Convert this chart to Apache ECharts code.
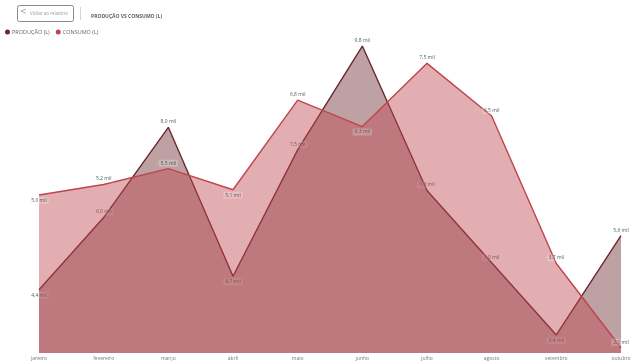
<!DOCTYPE html>
<html>
<head>
<meta charset="utf-8">
<script src="https://cdn.jsdelivr.net/npm/echarts@6/dist/echarts.min.js"></script>
<style>
  html, body { margin: 0; padding: 0; background: #ffffff; }
  #chart { width: 639px; height: 362px; }
</style>
</head>
<body>
<div id="chart"></div>
<script>
// Monthly production vs consumption, in thousands of litres
const months = ['janeiro', 'fevereiro', 'março', 'abril', 'maio', 'junho', 'julho', 'agosto', 'setembro', 'outubro'];
const producao = [4.4, 6.0, 8.0, 4.7, 7.5, 9.8, 6.6, 5.0, 3.4, 5.6];
const consumo = [5.0, 5.2, 5.5, 5.1, 6.8, 6.3, 7.5, 6.5, 3.7, 2.1];
const seriesNames = ['PRODUÇÃO (L)', 'CONSUMO (L)'];

const fmt = v => v.toFixed(1).replace('.', ',') + ' mil';

// Value labels sit under valleys (and a rising first point), above everything else
function withLabels(values) {
  return values.map((v, i) => {
    const prev = values[i - 1], next = values[i + 1];
    const below = next !== undefined && v < next && (prev === undefined || v < prev);
    return { value: v, label: { position: below ? 'bottom' : 'top' } };
  });
}

const labelStyle = {
  show: true,
  distance: 2,
  formatter: p => fmt(p.value),
  fontFamily: 'Open Sans',
  fontSize: 5,
  color: '#4f5c5c',
  backgroundColor: 'rgba(255,255,255,0.22)',
  padding: [1, 2],
  borderRadius: 1
};

const chart = echarts.init(document.getElementById('chart'), null, { renderer: 'canvas' });
chart.setOption({
  animation: false,
  textStyle: { fontFamily: 'Open Sans' },
  title: {
    text: 'PRODUÇÃO VS CONSUMO (L)',
    left: 86, top: 9,
    textStyle: { fontSize: 5, fontWeight: 'bold', color: '#5e5e5e' }
  },
  graphic: [
    {
      type: 'rect', left: 17, top: 5,
      shape: { width: 56, height: 16, r: 2 },
      style: { fill: '#ffffff', stroke: '#8a8a8a', lineWidth: 1 }
    },
    {
      type: 'text', left: 20, top: 8,
      style: { text: '<', fontSize: 8, fill: '#9a9a9a', fontFamily: 'DejaVu Sans' }
    },
    {
      type: 'text', left: 30, top: 11,
      style: { text: 'Voltar ao relatório', fontSize: 4.5, fill: '#9a9a9a', fontFamily: 'Open Sans' }
    },
    {
      type: 'line',
      shape: { x1: 80.5, y1: 7, x2: 80.5, y2: 20 },
      style: { stroke: '#d4d4d4', lineWidth: 1 }
    }
  ],
  legend: {
    data: seriesNames,
    left: 0, top: 24,
    icon: 'circle',
    itemWidth: 5, itemHeight: 5, itemGap: 6,
    textStyle: { fontSize: 5.5, color: '#666666', padding: [0, 0, 0, -3] }
  },
  grid: { left: 39, right: 18, top: 37, bottom: 9, containLabel: false },
  xAxis: {
    type: 'category',
    data: months,
    boundaryGap: false,
    axisLine: { show: false },
    axisTick: { show: false },
    axisLabel: { fontSize: 5, color: '#777777', margin: 3, interval: 0 },
    splitLine: { show: false }
  },
  yAxis: [
    { type: 'value', min: 3, max: 10, show: false, splitLine: { show: false } },
    { type: 'value', min: 2, max: 8, show: false, splitLine: { show: false } }
  ],
  series: [
    {
      name: seriesNames[0],
      type: 'line',
      yAxisIndex: 0,
      data: withLabels(producao),
      showSymbol: true,
      showAllSymbol: true,
      symbol: 'circle',
      symbolSize: 0,
      color: '#6b282e',
      lineStyle: { color: '#6b282e', width: 1.4 },
      areaStyle: { color: '#6b282e', opacity: 0.44 },
      label: labelStyle,
      z: 2
    },
    {
      name: seriesNames[1],
      type: 'line',
      yAxisIndex: 1,
      data: withLabels(consumo),
      showSymbol: true,
      showAllSymbol: true,
      symbol: 'circle',
      symbolSize: 0,
      color: '#c0444e',
      lineStyle: { color: '#bf444d', width: 1.4 },
      areaStyle: { color: '#be464e', opacity: 0.44 },
      label: labelStyle,
      z: 3
    }
  ]
});
</script>
</body>
</html>
